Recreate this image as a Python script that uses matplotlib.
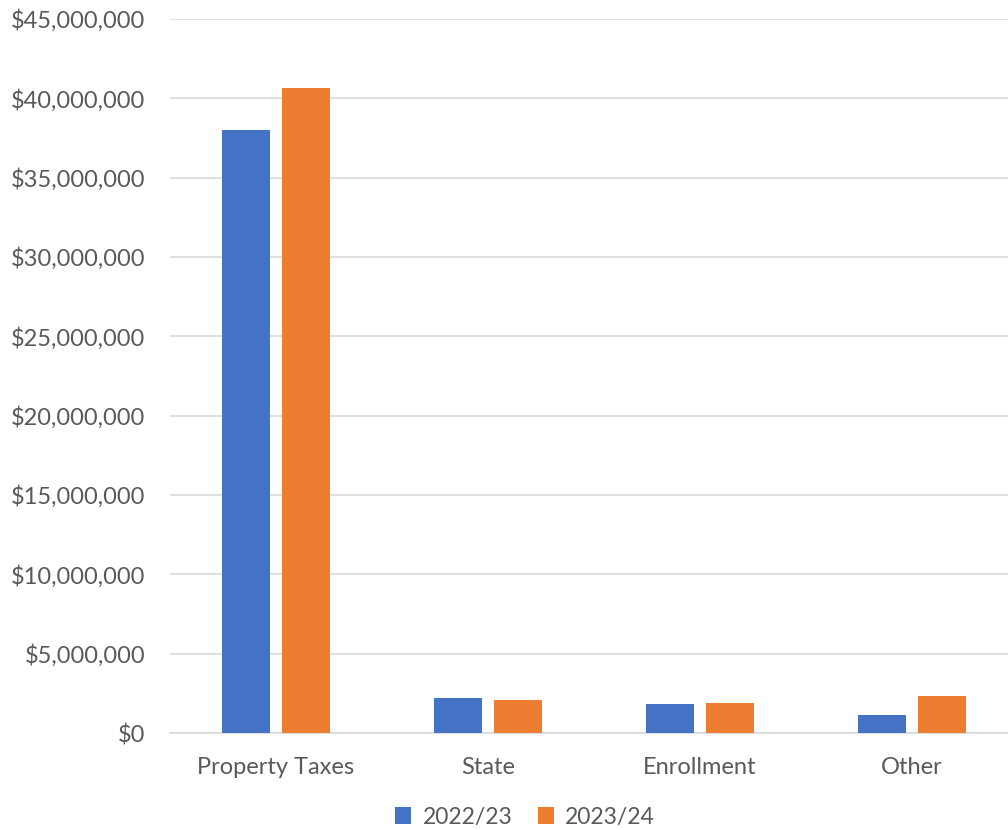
import matplotlib.pyplot as plt
import numpy as np
from matplotlib.ticker import FuncFormatter

# revenue by source
categories = ["Property Taxes", "State", "Enrollment", "Other"]
years = ["2022/23", "2023/24"]
vals_2022 = [38000000, 2180000, 1800000, 1110000]
vals_2023 = [40650000, 2100000, 1870000, 2310000]
colors = ["#4472C4", "#ED7D31"]

plt.rcParams['font.family'] = ['Lato', 'DejaVu Sans']
text_color = "#595959"

fig = plt.figure(figsize=(10.08, 8.3), dpi=100)
ax = fig.add_axes([170 / 1008, 97 / 830, 838 / 1008, 714 / 830])

x = np.arange(len(categories))
w = 0.226
off = 0.143
ax.bar(x - off, vals_2022, w, color=colors[0], label=years[0], zorder=3)
ax.bar(x + off, vals_2023, w, color=colors[1], label=years[1], zorder=3)

ax.set_xlim(-0.5, -0.5 + 838 / 212)
ax.set_ylim(0, 45000000)
ax.set_yticks(np.arange(0, 45000001, 5000000))
ax.yaxis.set_major_formatter(FuncFormatter(lambda v, p: "${:,.0f}".format(v)))
ax.set_xticks(x)
ax.set_xticklabels(categories)

ax.grid(axis='y', color="#D9D9D9", linewidth=1.2, zorder=0)
for s in ['top', 'right', 'left']:
    ax.spines[s].set_visible(False)
ax.spines['bottom'].set_color("#D9D9D9")
ax.spines['bottom'].set_linewidth(1.2)
ax.tick_params(axis='both', length=0, labelsize=17, colors=text_color)
ax.tick_params(axis='y', pad=18)
ax.tick_params(axis='x', pad=17)

leg = fig.legend(loc='center', bbox_to_anchor=(525 / 1008, 1 - 817 / 830), ncol=2,
                 frameon=False, fontsize=16.5, handlelength=0.7, handleheight=0.7,
                 handletextpad=0.5, columnspacing=1.1)
for t in leg.get_texts():
    t.set_color(text_color)

fig.savefig("out.png", dpi=100)
